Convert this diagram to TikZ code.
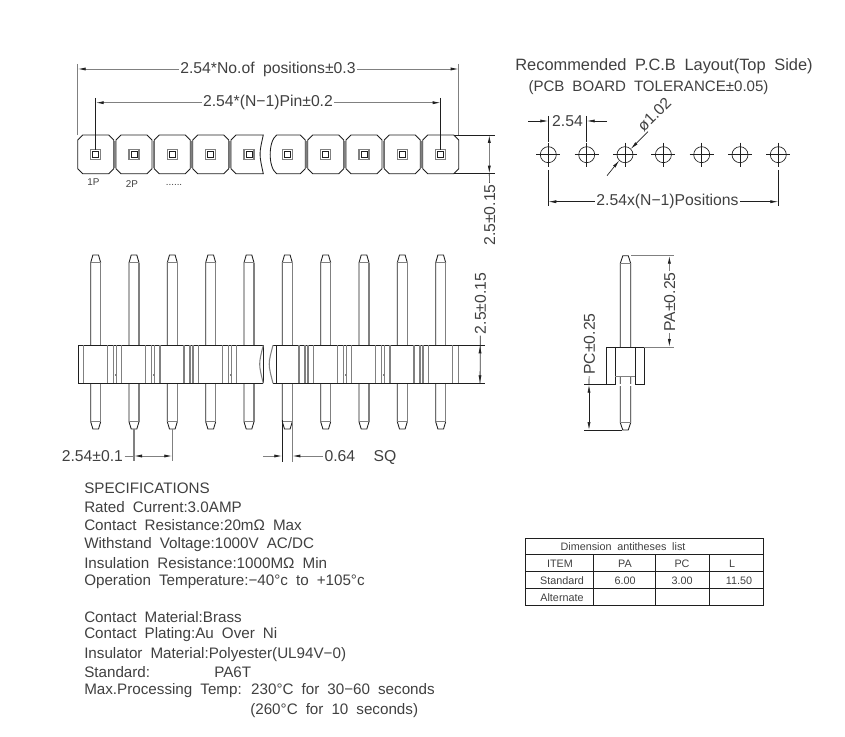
\documentclass[tikz,border=0pt]{standalone}
\usepackage{fontspec}
\setmainfont{Liberation Sans}[WordSpace=1.9]
\usetikzlibrary{arrows.meta,positioning}
\definecolor{cadline}{gray}{0.12}
\definecolor{cadgray}{gray}{0.5}
\definecolor{cadtext}{gray}{0.25}

\tikzset{
    outline/.style={draw=cadline, line width=0.65pt},
    softline/.style={draw=cadgray, line width=0.8pt},
    extline/.style={draw=cadline, line width=0.5pt},
    dimline/.style={draw=cadgray, line width=0.6pt},
    dimtip/.style={-{Latex[length=6pt,width=2.3pt,color=cadline]}},
    dimlabel/.style={text=cadtext, inner sep=1pt, font=\fontsize{11.8}{13}\selectfont},
    speclabel/.style={text=cadtext, inner sep=0pt, anchor=west, font=\fontsize{11.4}{13}\selectfont},
    celllabel/.style={text=cadtext, inner sep=0pt, font=\fontsize{8.1}{9}\selectfont},
    smalllabel/.style={text=cadtext, inner sep=0pt, font=\fontsize{7.4}{8}\selectfont}
}

\begin{document}
\begin{tikzpicture}[x=0.75pt,y=-0.75pt]
    \useasboundingbox (0,0) rectangle (845,737);

    % Top view: pads and pin squares
    \foreach \cx in {95.7,134,172.3,210.7,325.7,364,402.3,440.7} {
        \draw[outline] (\cx-18,140) -- (\cx-13,135) -- (\cx+13,135) -- (\cx+18,140)
            -- (\cx+18,168.7) -- (\cx+13,173.7) -- (\cx-13,173.7) -- (\cx-18,168.7) -- cycle;
    }
    \draw[outline] (231,140) -- (236,135) -- (263.3,135) .. controls (259,154) .. (263.3,173.7)
        -- (236,173.7) -- (231,168.7) -- cycle;
    \draw[outline] (276.7,135) -- (300.3,135) -- (305.3,140) -- (305.3,168.7) -- (300.3,173.7)
        -- (276.7,173.7) .. controls (268,168) and (268,141) .. (276.7,135);
    \foreach \cx in {95.7,134,172.3,210.7,249,287.3,325.7,364,402.3,440.7} {
        \draw[softline] (\cx-5,149.7) rectangle (\cx+5,159.7);
        \draw[outline, line width=0.5pt] (\cx-3,151.7) rectangle (\cx+3,157.7);
    }
    \foreach \cx in {116,154.3,192.7,231,307.3,346,384.3,422.7} {
        \draw[softline] (\cx-1,141) -- (\cx-1,168);
    }
    \node[smalllabel] (onep) at (93.5,182) {1P};
    \node[smalllabel] (twop) at (132,184) {2P};
    \node[smalllabel] (morep) at (174,184.5) {......};

    % Top view dimensions
    \coordinate (alll) at (77.7,69);
    \coordinate (allr) at (458.7,69);
    \node[dimlabel] (dimall) at (268,69) {2.54*No.of positions±0.3};
    \draw[dimline,dimtip] (dimall) -- (alll);
    \draw[dimline,dimtip] (dimall) -- (allr);
    \draw[softline] (77.7,64) -- (77.7,135);
    \draw[softline] (458.7,64) -- (458.7,135);

    \coordinate (pinl) at (95.7,102.7);
    \coordinate (pinr) at (440.7,102.7);
    \node[dimlabel] (dimpin) at (268,102.7) {2.54*(N−1)Pin±0.2};
    \draw[dimline,dimtip] (dimpin) -- (pinl);
    \draw[dimline,dimtip] (dimpin) -- (pinr);
    \draw[extline] (95.7,98) -- (95.7,150);
    \draw[extline] (440.7,98) -- (440.7,150);

    \coordinate (padt) at (489.3,135);
    \coordinate (padb) at (489.3,173.7);
    \node[dimlabel,rotate=90] (dimpad) at (489.8,215) {2.5±0.15};
    \draw[extline] (dimpad) -- (padb);
    \draw[extline] (454,135) -- (495,135);
    \draw[extline] (454,173.7) -- (495,173.7);
    \draw[dimline,dimtip] (padt |- 154,154) -- (padt);
    \draw[dimline,dimtip] (padb |- 154,154) -- (padb);

    % PCB layout
    \node[dimlabel,font=\fontsize{12.3}{13}\selectfont] (pcbtitle) at (664,66) {Recommended P.C.B Layout(Top Side)};
    \node[dimlabel,font=\fontsize{11.3}{13}\selectfont] (pcbnote) at (648.5,88) {(PCB BOARD TOLERANCE±0.05)};
    \foreach \cx in {548.3,586.7,625,663.4,701.7,740,778.3} {
        \draw[outline, line width=0.5pt] (\cx,154.7) circle (8);
        \draw[extline] (\cx-12,154.7) -- (\cx+12,154.7);
        \draw[extline] (\cx,142.7) -- (\cx,166.7);
    }
    \node[dimlabel] (holepitch) at (567.5,121) {2.54};
    \coordinate (holel) at (548.3,121);
    \coordinate (holer) at (586.7,121);
    \coordinate (holelo) at (528,121);
    \coordinate (holero) at (607,121);
    \draw[extline,dimtip] (holelo) -- (holel);
    \draw[extline,dimtip] (holero) -- (holer);
    \draw[extline] (548.3,116) -- (548.3,142);
    \draw[extline] (586.7,116) -- (586.7,142);

    \node[dimlabel,rotate=45,anchor=south west,inner sep=0pt] (holedia) at (644,133) {ø1.02};
    \coordinate (diain) at (630.7,149);
    \coordinate (diaout) at (619.3,160.4);
    \coordinate (diastart) at (607,175.7);
    \coordinate (diaend) at (648,131.7);
    \draw[extline,dimtip] (diaend) -- (diain);
    \draw[extline,dimtip] (diastart) -- (diaout);

    \node[dimlabel] (dimpos) at (667.5,201.7) {2.54x(N−1)Positions};
    \coordinate (posl) at (548.3,201.7);
    \coordinate (posr) at (778.3,201.7);
    \draw[extline,dimtip] (dimpos) -- (posl);
    \draw[extline,dimtip] (dimpos) -- (posr);
    \draw[extline] (548.3,170) -- (548.3,206);
    \draw[extline] (778.3,170) -- (778.3,206);

    % Front view: pins
    \foreach \cx in {95.7,134,172.3,210.7,249,287.3,325.7,364,402.3,440.7} {
        \draw[outline] (\cx-5,345.3) -- (\cx-5,262.7) -- (\cx-2.8,255) -- (\cx+2.8,255) -- (\cx+5,262.7);
        \draw[softline] (\cx+5,262.7) -- (\cx+5,345.3);
        \draw[softline] (\cx-5,262.7) -- (\cx+5,262.7);
        \draw[outline] (\cx-5,383.3) -- (\cx-5,421.7) -- (\cx-2.8,429) -- (\cx+2.8,429) -- (\cx+5,421.7);
        \draw[softline] (\cx+5,421.7) -- (\cx+5,383.3);
        \draw[softline] (\cx-5,421.7) -- (\cx+5,421.7);
    }

    % Front view: insulator
    \draw[outline] (263.3,345.3) -- (78.3,345.3) -- (78.3,383.3) -- (263.3,383.3);
    \draw[outline] (273,345.3) -- (458.5,345.3) -- (458.5,383.3) -- (273,383.3);
    \foreach \cx in {95.7,134,172.3,210.7,249} {
        \draw[softline] (\cx-12.3,345.3) -- (\cx-12.3,383.3);
    }
    \foreach \cx in {95.7,134,172.3,210.7,287.3,325.7,364,402.3,440.7} {
        \draw[softline] (\cx+11.7,345.3) -- (\cx+11.7,383.3);
        \draw[softline] (\cx+17.7,345.3) -- (\cx+17.7,383.3);
    }
    \foreach \cx in {134,172.3,210.7,249,325.7,364,402.3,440.7} {
        \draw[softline] (\cx-17.7,345.3) -- (\cx-17.7,383.3);
    }
    \foreach \cx in {325.7,364,402.3,440.7} {
        \draw[softline] (\cx-12.3,345.3) -- (\cx-12.3,383.3);
    }
    \foreach \cx in {114.8,153,191.5,229.8,306.5,345,383.3,421.5} {
        \draw[softline] (\cx,375) -- (\cx+1.6,375);
    }
    \draw[outline] (263.3,345.3) -- (263.3,383.3);
    \draw[softline] (263.3,345.3) .. controls (258.5,364) .. (263.3,383.3);
    \draw[softline] (273,345.3) .. controls (268,364) .. (273,383.3);
    \draw[outline] (276,345.3) -- (276,383.3);

    % Front view dimensions
    \coordinate (bodyt) at (480,345.3);
    \coordinate (bodyb) at (480,383.3);
    \node[dimlabel,rotate=90] (dimbody) at (480.5,303.5) {2.5±0.15};
    \draw[extline] (dimbody) -- (bodyb);
    \draw[extline] (458,345.3) -- (485,345.3);
    \draw[extline] (458,383.3) -- (485,383.3);
    \draw[dimline,dimtip] (480,364) -- (bodyt);
    \draw[dimline,dimtip] (480,364) -- (bodyb);

    \node[dimlabel,anchor=east] (dimpitch) at (124.5,456) {2.54±0.1};
    \coordinate (pitchl) at (134,456);
    \coordinate (pitchr) at (172.3,456);
    \draw[dimline] (dimpitch) -- (pitchl);
    \draw[dimline,dimtip] (153,456) -- (pitchl);
    \draw[dimline,dimtip] (153,456) -- (pitchr);
    \draw[softline] (134,429) -- (134,461);
    \draw[softline] (172.3,429) -- (172.3,461);

    \node[dimlabel,anchor=west] (dimsq) at (323,456) {0.64};
    \node[dimlabel,anchor=base west] (dimsqb) at (372,461) {SQ};
    \coordinate (sql) at (282.3,456);
    \coordinate (sqr) at (292.3,456);
    \coordinate (sqo) at (263,456);
    \draw[dimline,dimtip] (sqo) -- (sql);
    \draw[dimline,dimtip] (dimsq) -- (sqr);
    \draw[outline] (282.3,420) -- (282.3,462);
    \draw[softline] (292.3,420) -- (292.3,462);

    % Side view
    \draw[outline] (620.3,347) -- (620.3,263.3) -- (622.8,255.7) -- (628.2,255.7) -- (630.7,263.3) -- (630.7,347);
    \draw[softline] (620.3,263.3) -- (630.7,263.3);
    \draw[outline] (620.3,376.7) -- (620.3,422.7) -- (622.8,430) -- (628.2,430) -- (630.7,422.7) -- (630.7,376.7);
    \draw[softline] (620.3,422.7) -- (630.7,422.7);
    \draw[outline] (606.7,347) rectangle (644.3,384.7);
    \draw[outline] (615.3,347) -- (615.3,384.7);
    \draw[outline] (635.3,347) -- (635.3,384.7);
    \draw[draw=white, line width=1.6pt] (616,384.7) -- (634.6,384.7);
    \draw[softline] (615.3,376.7) -- (635.3,376.7);

    % Side view dimensions
    \coordinate (pat) at (669.3,255.7);
    \coordinate (pab) at (669.3,347);
    \node[dimlabel,rotate=90] (dimpa) at (669.8,302) {PA±0.25};
    \draw[dimline,dimtip] (dimpa) -- (pat);
    \draw[dimline,dimtip] (dimpa) -- (pab);
    \draw[dimline] (631,255.7) -- (674,255.7);
    \draw[dimline] (644,347) -- (674,347);

    \coordinate (pct) at (589,384.7);
    \coordinate (pcb) at (589,430);
    \node[dimlabel,rotate=90] (dimpc) at (589.5,344) {PC±0.25};
    \draw[extline] (dimpc) -- (pct);
    \draw[extline,dimtip] (589,407) -- (pct);
    \draw[extline,dimtip] (589,407) -- (pcb);
    \draw[extline] (584,384.7) -- (606.7,384.7);
    \draw[extline] (584,430) -- (622,430);

    % Specifications
    \node[speclabel] (spechead) at (84,488.5) {SPECIFICATIONS};
    \node[speclabel] (speccur) at (84,507) {Rated Current:3.0AMP};
    \node[speclabel] (specres) at (84,525.5) {Contact Resistance:20mΩ Max};
    \node[speclabel] (specvol) at (84,544.5) {Withstand Voltage:1000V AC/DC};
    \node[speclabel] (specins) at (84,563) {Insulation Resistance:1000MΩ Min};
    \node[speclabel] (spectem) at (84,581.5) {Operation Temperature:−40°c to +105°c};
    \node[speclabel] (specmat) at (84,617) {Contact Material:Brass};
    \node[speclabel] (specpla) at (84,635) {Contact Plating:Au Over Ni};
    \node[speclabel] (specpol) at (84,654.5) {Insulator Material:Polyester(UL94V−0)};
    \node[speclabel] (specstd) at (84,672.5) {Standard:};
    \node[speclabel] (specpat) at (214,672.5) {PA6T};
    \node[speclabel] (specpro) at (84,691) {Max.Processing Temp: 230°C for 30−60 seconds};
    \node[speclabel] (specsec) at (250,710.5) {(260°C for 10 seconds)};

    % Dimension table
    \draw[outline] (525,538) rectangle (763.7,605.7);
    \draw[outline] (525,554.3) -- (763.7,554.3);
    \draw[outline] (525,571.3) -- (763.7,571.3);
    \draw[outline] (525,588.3) -- (763.7,588.3);
    \foreach \x in {593.7,655,709.3} \draw[outline] (\x,554.3) -- (\x,605.7);
    \node[celllabel] (tabhead) at (623,547) {Dimension antitheses list};
    \node[celllabel] (tabitem) at (560,563.5) {ITEM};
    \node[celllabel] (tabpa) at (625,563.5) {PA};
    \node[celllabel] (tabpc) at (682,563.5) {PC};
    \node[celllabel] (tabl) at (732,563.5) {L};
    \node[celllabel] (tabstd) at (562,580.5) {Standard};
    \node[celllabel] (tabsa) at (625,580.5) {6.00};
    \node[celllabel] (tabsc) at (682,580.5) {3.00};
    \node[celllabel] (tabsl) at (739,580.5) {11.50};
    \node[celllabel] (tabalt) at (562,597.5) {Alternate};
\end{tikzpicture}
\end{document}
